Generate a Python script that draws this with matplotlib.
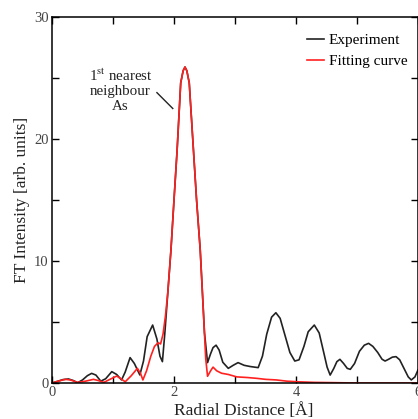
import matplotlib
matplotlib.use("Agg")
import matplotlib.pyplot as plt
from matplotlib.ticker import MultipleLocator

# Experiment (black)
exp_r = [0.0, 0.1, 0.18, 0.27, 0.35, 0.42, 0.5, 0.58, 0.65, 0.72, 0.8, 0.88, 0.98, 1.06, 1.14,
         1.2, 1.28, 1.35, 1.44, 1.5, 1.56, 1.65, 1.72, 1.77, 1.81, 1.85, 1.9, 1.95, 2.0, 2.05,
         2.11, 2.15, 2.18, 2.21, 2.25, 2.32, 2.37, 2.43, 2.5, 2.55, 2.6, 2.64, 2.69, 2.74, 2.8,
         2.89, 2.97, 3.05, 3.15, 3.25, 3.38, 3.45, 3.52, 3.6, 3.67, 3.74, 3.82, 3.9, 3.98, 4.05,
         4.13, 4.2, 4.3, 4.38, 4.45, 4.51, 4.56, 4.62, 4.67, 4.72, 4.78, 4.84, 4.89, 4.96, 5.04,
         5.12, 5.19, 5.26, 5.34, 5.41, 5.46, 5.52, 5.58, 5.64, 5.7, 5.77, 5.84, 5.89, 5.95, 6.0]
exp_ft = [0.0, 0.15, 0.28, 0.33, 0.2, 0.02, 0.25, 0.6, 0.79, 0.65, 0.15, 0.35, 0.93, 0.7, 0.25,
          0.9, 2.08, 1.6, 0.66, 1.8, 3.8, 4.75, 3.6, 2.2, 1.75, 4.1, 7.5, 10.9, 15.0, 19.0,
          24.6, 25.6, 25.9, 25.6, 24.6, 19.0, 15.0, 10.9, 4.1, 1.67, 2.4, 2.9, 3.1, 2.7, 1.7,
          1.2, 1.45, 1.67, 1.45, 1.35, 1.26, 2.2, 4.0, 5.4, 5.76, 5.3, 3.9, 2.5, 1.8, 1.9,
          3.0, 4.2, 4.75, 4.1, 2.6, 1.3, 0.65, 1.2, 1.75, 1.94, 1.6, 1.2, 1.12, 1.6, 2.6,
          3.1, 3.25, 3.0, 2.5, 1.95, 1.8, 1.95, 2.12, 2.16, 1.9, 1.2, 0.5, 0.25, 0.5, 1.07]

# Fitting curve (red)
fit_r = [0.0, 0.1, 0.22, 0.3, 0.42, 0.55, 0.68, 0.76, 0.85, 0.95, 1.06, 1.13, 1.2, 1.3, 1.4,
         1.45, 1.49, 1.55, 1.62, 1.68, 1.74, 1.78, 1.82, 1.86, 1.9, 1.95, 2.0, 2.05, 2.11, 2.15,
         2.18, 2.21, 2.25, 2.32, 2.37, 2.43, 2.48, 2.52, 2.55, 2.6, 2.64, 2.7, 2.78, 2.89, 3.03,
         3.2, 3.36, 3.5, 3.68, 3.85, 4.03, 4.3, 4.6, 5.0, 6.0]
fit_ft = [0.0, 0.15, 0.3, 0.25, 0.05, 0.15, 0.3, 0.2, 0.05, 0.3, 0.57, 0.35, 0.1, 0.6, 1.2,
          0.8, 0.25, 1.0, 2.2, 3.0, 3.3, 3.2, 4.0, 5.5, 7.5, 10.9, 15.0, 19.0, 24.6, 25.6,
          25.9, 25.6, 24.6, 19.0, 15.0, 10.9, 6.0, 2.0, 0.55, 1.0, 1.3, 1.0, 0.8, 0.7, 0.5,
          0.45, 0.38, 0.3, 0.25, 0.15, 0.1, 0.05, 0.03, 0.0, 0.0]

plt.rcParams["font.family"] = "Liberation Serif"
plt.rcParams["mathtext.fontset"] = "stix"

fig = plt.figure(figsize=(4.18, 4.19), dpi=100)
ax = fig.add_axes([52 / 418, 1 - 383 / 419, 366 / 418, 366 / 419])

ax.plot(exp_r, exp_ft, color="#222222", lw=1.2, label="Experiment")
ax.plot(fit_r, fit_ft, color="#ff2020", lw=1.2, label="Fitting curve")

ax.set_xlim(0, 6)
ax.set_ylim(0, 30)
ax.xaxis.set_major_locator(MultipleLocator(2))
ax.xaxis.set_minor_locator(MultipleLocator(1))
ax.yaxis.set_major_locator(MultipleLocator(10))
ax.yaxis.set_minor_locator(MultipleLocator(5))
ax.tick_params(which="both", direction="in", top=True, right=True, length=5, width=1.0,
               labelsize=10.5, labelcolor="#444444", pad=2.5)
for s in ax.spines.values():
    s.set_linewidth(1.1)

ax.set_xlabel("Radial Distance [Å]", fontsize=12.5, color="#222222")
ax.xaxis.set_label_coords(0.525, -0.055, transform=ax.transAxes)
ax.xaxis.label.set_va("top")
ax.set_ylabel("FT Intensity [arb. units]", fontsize=12.5, labelpad=3, color="#222222")

ax.text(1.12, 24.0, "1$^{\\rm st}$ nearest\nneighbour\nAs", fontsize=10.8, ha="center",
        va="center", linespacing=1.15, color="#222222")
ax.plot([1.72, 1.98], [23.8, 22.5], color="#222222", lw=1.0)

ax.legend(loc="upper right", bbox_to_anchor=(1.0, 0.985), frameon=False, fontsize=11,
          handlelength=1.1, handletextpad=0.3, borderaxespad=0.5, labelspacing=0.5,
          borderpad=0.2)

fig.savefig("out.png", dpi=100)
